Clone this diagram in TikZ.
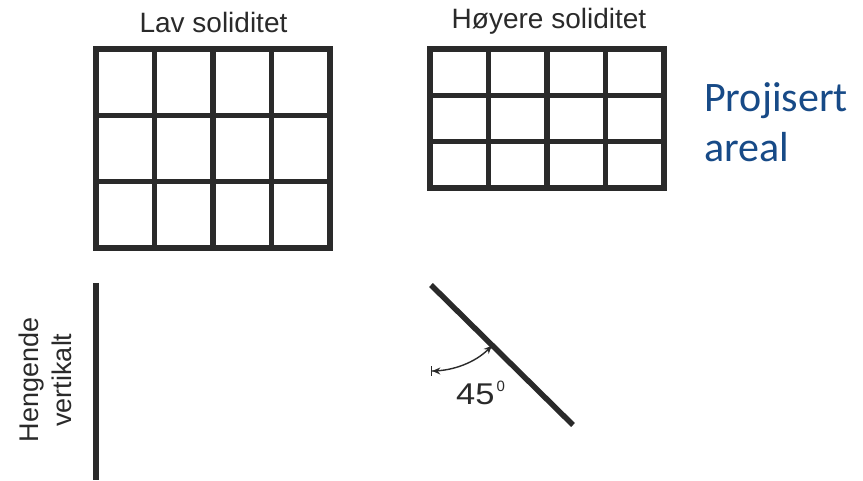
\documentclass[tikz,border=0pt]{standalone}
\usepackage{fontspec}
\setmainfont{Liberation Sans}
\newfontfamily\calibri{Carlito}
\usetikzlibrary{arrows.meta,calc}
\definecolor{ink}{RGB}{42,42,42}
\definecolor{pblue}{RGB}{23,74,135}
\begin{document}
\begin{tikzpicture}[x=1pt,y=-1pt,
  gridline/.style={draw=ink,line width=5.5pt},
  bar/.style={draw=ink,line width=5.5pt},
  title/.style={font=\fontsize{28}{33}\selectfont,text=ink,inner sep=0pt},
  anglearc/.style={draw=ink,line width=1.4pt}]
\useasboundingbox[fill=white] (0,0) rectangle (863,481);
% low solidity grid
\draw[gridline] (96,49) rectangle (330,248);
\foreach \x in {154.5,213,271.5} \draw[gridline] (\x,49) -- (\x,248);
\foreach \y in {115.3,181.7} \draw[gridline] (96,\y) -- (330,\y);
% higher solidity grid
\draw[gridline] (430,49) rectangle (664,188);
\foreach \x in {488.5,547,605.5} \draw[gridline] (\x,49) -- (\x,188);
\foreach \y in {95.3,141.7} \draw[gridline] (430,\y) -- (664,\y);
% titles
\node[title,anchor=base] (t1) at (213.5,33) {Lav soliditet};
\node[title,anchor=base] (t2) at (549,29) {Høyere soliditet};
\node[font=\calibri\fontsize{42}{50}\selectfont,text=pblue,align=left,anchor=base west,inner sep=0pt] (pa) at (704,162) {Projisert\\areal};
% hanging vertical
\coordinate (v1) at (96,283);
\coordinate (v2) at (96,480);
\draw[bar] (v1) -- (v2);
\node[font=\fontsize{27}{33}\selectfont,text=ink,inner sep=0pt,rotate=90,align=center] (hv) at (45,380) {Hengende\\vertikalt};
% 45 degree
\coordinate (d1) at (431,285);
\coordinate (d2) at (573,425);
\draw[bar] (d1) -- (d2);
\draw[anglearc,{Bar[width=9pt,line width=1.3pt]Stealth[length=8pt,width=7pt]}-{Stealth[length=8pt,width=7pt]}] ($(d1)+(0,86)$) arc[start angle=90,end angle=45,radius=86];
\node[font=\fontsize{30}{32}\selectfont,text=ink,anchor=base west,inner sep=0pt] (deg) at (456,404) {\scalebox{1.15}[1]{45}\hspace{2pt}{\fontsize{15}{15}\selectfont\raisebox{13pt}{0}}};
\end{tikzpicture}
\end{document}
